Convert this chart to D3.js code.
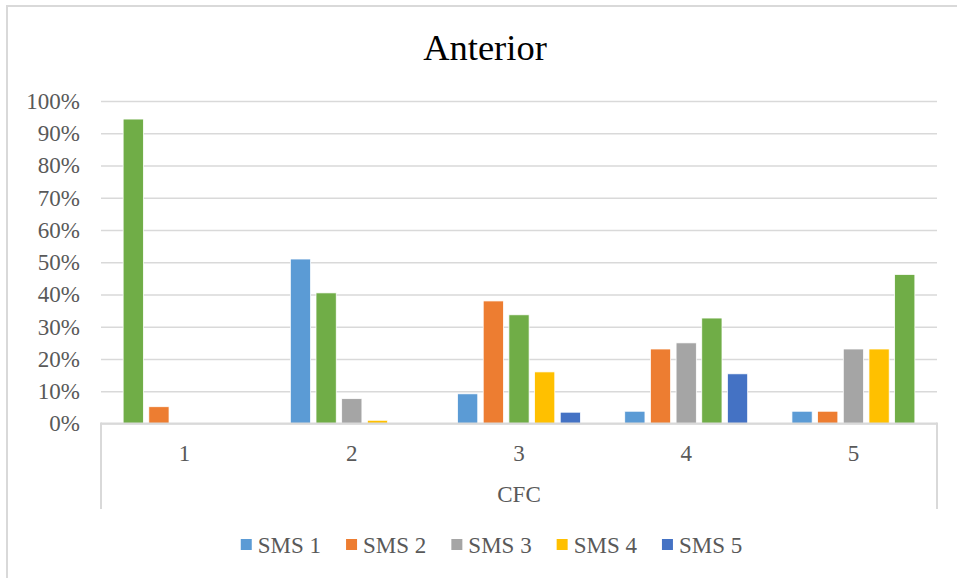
<!DOCTYPE html>
<html>
<head>
<meta charset="utf-8">
<script src="https://cdn.jsdelivr.net/npm/d3@7/dist/d3.min.js"></script>
<style>
  html, body { margin: 0; padding: 0; background: #fff; }
  svg { display: block; }
  text { font-family: "Liberation Serif", "Times New Roman", serif; }
</style>
</head>
<body>
<svg id="chart" width="957" height="578"></svg>
<script>
// Categories along the x axis (CFC) and the five SMS series (share of cases)
const categories = ["1", "2", "3", "4", "5"];
const seriesNames = ["SMS 1", "SMS 2", "SMS 3", "SMS 4", "SMS 5"];
const sms1 = [0.944, 0.510, 0.092, 0.038, 0.038];
const sms2 = [0.052, 0.405, 0.380, 0.231, 0.038];
const sms3 = [0.000, 0.077, 0.337, 0.250, 0.231];
const sms4 = [0.000, 0.010, 0.160, 0.327, 0.231];
const sms5 = [0.000, 0.000, 0.035, 0.154, 0.462];
const yTicks = [0, 0.1, 0.2, 0.3, 0.4, 0.5, 0.6, 0.7, 0.8, 0.9, 1.0];

const seriesValues = [sms1, sms2, sms3, sms4, sms5];
const seriesColors = ["#5B9BD5", "#ED7D31", "#A5A5A5", "#FFC000", "#4472C4"];
// Bars where the SMS level equals the CFC level are highlighted in green
const matchColor = "#70AD47";

const svg = d3.select("#chart");
const plot = { left: 101, right: 937, top: 101, bottom: 423.5 };
const textGray = "#595959";
const lineGray = "#D9D9D9";
const labelSize = 23;

// Outer chart frame
svg.append("rect")
  .attr("x", 7).attr("y", 6)
  .attr("width", 975).attr("height", 590)
  .attr("fill", "#fff")
  .attr("stroke", lineGray).attr("stroke-width", 2);

// Title
svg.append("text")
  .attr("x", 485).attr("y", 60)
  .attr("text-anchor", "middle")
  .attr("font-size", 36.5)
  .attr("fill", "#000")
  .text("Anterior");

// Scales
const y = d3.scaleLinear().domain([0, 1]).range([plot.bottom, plot.top]);
const x0 = d3.scaleBand().domain(categories).range([plot.left, plot.right]).padding(0);
const catW = x0.bandwidth();
const barW = catW / 8.27;                // bar width with Excel-style gap (219%) and overlap (-27%)
const groupW = barW * 6.08;
const x1 = d3.scaleBand()
  .domain(seriesNames)
  .range([0, groupW])
  .paddingInner(0.27 / 1.27)
  .paddingOuter(0);
const groupOffset = (catW - groupW) / 2;

// Horizontal gridlines and y tick labels
const yAxis = d3.axisLeft(y)
  .tickValues(yTicks)
  .tickFormat(d3.format(".0%"))
  .tickSize(-(plot.right - plot.left))
  .tickPadding(21);

const gy = svg.append("g")
  .attr("transform", `translate(${plot.left},0)`)
  .call(yAxis);
gy.select(".domain").remove();
gy.selectAll(".tick line")
  .attr("stroke", lineGray)
  .attr("stroke-width", 1.3);
gy.selectAll(".tick text")
  .attr("font-size", labelSize)
  .attr("fill", textGray)
  .attr("font-family", "Liberation Serif, Times New Roman, serif");

// Bars
const barData = [];
categories.forEach((c, ci) => {
  seriesNames.forEach((s, si) => {
    barData.push({ cat: c, ci, series: s, si, value: seriesValues[si][ci] });
  });
});

svg.append("g")
  .selectAll("rect")
  .data(barData)
  .join("rect")
  .attr("x", d => x0(d.cat) + groupOffset + x1(d.series))
  .attr("y", d => y(d.value))
  .attr("width", x1.bandwidth())
  .attr("height", d => y(0) - y(d.value))
  .attr("fill", d => d.ci === d.si ? matchColor : seriesColors[d.si])
  .attr("stroke", d => d.value > 0 ? "#fff" : "none")
  .attr("stroke-width", 0.75);

// Category axis: baseline, surrounding box and labels
const boxBottom = 509;
const axisG = svg.append("g");
axisG.append("line")
  .attr("x1", plot.left).attr("x2", plot.right)
  .attr("y1", y(0)).attr("y2", y(0))
  .attr("stroke", lineGray).attr("stroke-width", 2);
[plot.left, plot.right].forEach(xv => {
  axisG.append("line")
    .attr("x1", xv).attr("x2", xv)
    .attr("y1", y(0) - 1).attr("y2", boxBottom)
    .attr("stroke", lineGray).attr("stroke-width", 2);
});

const xAxis = d3.axisBottom(x0).tickSize(0).tickPadding(0);
const gx = svg.append("g")
  .attr("transform", `translate(0,${y(0)})`)
  .call(xAxis);
gx.select(".domain").remove();
gx.selectAll(".tick text")
  .attr("y", 37)
  .attr("dy", 0)
  .attr("font-size", labelSize)
  .attr("fill", textGray)
  .attr("font-family", "Liberation Serif, Times New Roman, serif");

svg.append("text")
  .attr("x", (plot.left + plot.right) / 2)
  .attr("y", 502)
  .attr("text-anchor", "middle")
  .attr("font-size", labelSize)
  .attr("fill", textGray)
  .text("CFC");

// Legend
const legend = svg.append("g");
const items = legend.selectAll("g")
  .data(seriesNames)
  .join("g");
items.append("rect")
  .attr("width", 11).attr("height", 11)
  .attr("y", -14)
  .attr("fill", (d, i) => seriesColors[i]);
items.append("text")
  .attr("x", 17)
  .attr("font-size", labelSize)
  .attr("fill", textGray)
  .text(d => d);

let cursor = 0;
const itemGap = 25;
items.each(function () {
  const g = d3.select(this);
  const tw = g.select("text").node().getComputedTextLength();
  g.attr("transform", `translate(${cursor},0)`);
  cursor += 17 + tw + itemGap;
});
const legendW = cursor - itemGap;
legend.attr("transform", `translate(${491.5 - legendW / 2},553)`);
</script>
</body>
</html>
